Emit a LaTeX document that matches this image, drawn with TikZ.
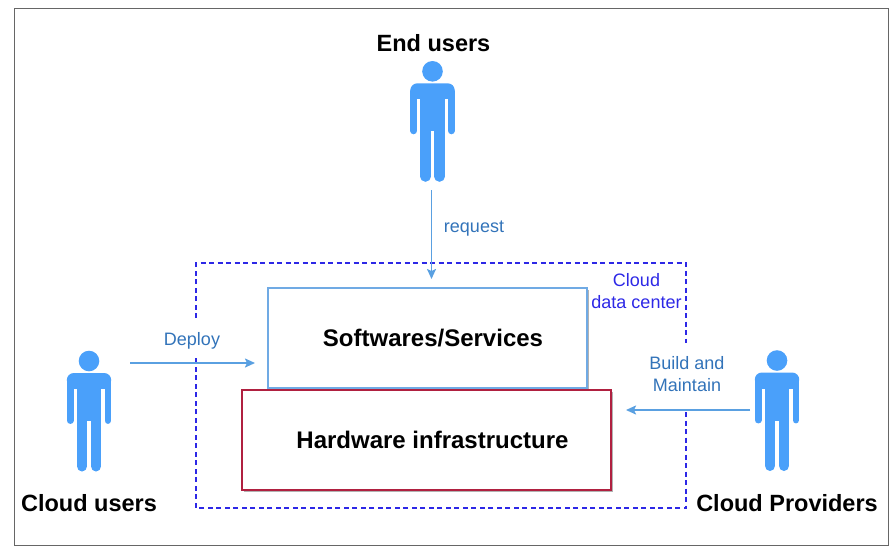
\documentclass[tikz,border=0pt]{standalone}
\usepackage{fontspec}
\setmainfont{Liberation Sans}
\usetikzlibrary{shadows,arrows.meta}
\definecolor{personblue}{RGB}{74,160,250}
\definecolor{arrowblue}{RGB}{90,160,225}
\definecolor{labelblue}{RGB}{50,115,185}
\definecolor{softblue}{RGB}{112,170,228}
\definecolor{hardred}{RGB}{176,32,64}
\definecolor{centerblue}{RGB}{45,40,230}
\tikzset{
    person/.pic={
        \fill[personblue] (0,0) circle (10.3);
        \fill[personblue,rounded corners=7] (-22.2,26) -- (-22.2,12) -- (22.2,12) -- (22.2,26) -- cycle;
        \fill[personblue] (-15.5,20) rectangle (15.5,28);
        \fill[personblue] (-12.3,28) rectangle (12.3,60);
        \draw[personblue,line width=6.7pt,line cap=round] (-18.85,20) -- (-18.85,59.6);
        \draw[personblue,line width=6.7pt,line cap=round] (18.85,20) -- (18.85,59.6);
        \draw[personblue,line width=10.6pt,line cap=round] (-7,50) -- (-7,105.2);
        \draw[personblue,line width=10.6pt,line cap=round] (7,50) -- (7,105.2);
    },
    rolelabel/.style={font=\bfseries\fontsize{23.5}{26}\selectfont,text=black},
    boxlabel/.style={font=\bfseries\fontsize{24}{26}\selectfont,text=black},
    arrowlabel/.style={font=\fontsize{18}{22}\selectfont,text=labelblue,align=center},
    flow/.style={arrowblue,line width=1.8pt,-{Stealth[length=10pt,width=9pt,inset=2pt]}},
    centerline/.style={centerblue,line width=1.8pt,dash pattern=on 5pt off 3.5pt},
    softbox/.style={boxlabel,draw=softblue,line width=2pt,fill=white,minimum width=319pt,minimum height=100pt,
        drop shadow={shadow xshift=2pt,shadow yshift=-2pt,fill=black,opacity=.3}},
    hardbox/.style={boxlabel,draw=hardred,line width=2pt,fill=white,minimum width=369pt,minimum height=100pt,
        drop shadow={shadow xshift=2pt,shadow yshift=-2pt,fill=black,opacity=.3}},
}
\begin{document}
\begin{tikzpicture}[x=1pt,y=-1pt]
    \useasboundingbox (0,0) rectangle (896,552);
    \draw[black!60,line width=1pt] (14,8) rectangle (888,545);

    % data center outline, open where the arrows come through
    \draw[centerline] (196,318) -- (196,263) -- (686,263) -- (686,343);
    \draw[centerline] (686,412) -- (686,508) -- (196,508) -- (196,358);
    \node[arrowlabel,text=centerblue] (centerlabel) at (636.5,291.5) {Cloud\\data center};

    \node[softbox] (software) at (427.5,338) {\hspace{11pt}\raisebox{-1pt}{Softwares/Services}};
    \node[hardbox] (hardware) at (426.5,440) {\hspace{12pt}\raisebox{-1pt}{Hardware infrastructure}};

    \pic (enduser) at (432.5,71.3) {person};
    \pic (clouduser) at (89,361) {person};
    \pic (provider) at (777,360.5) {person};
    \node[rolelabel] (endlabel) at (433.5,43) {End users};
    \node[rolelabel] (userlabel) at (89,503) {Cloud users};
    \node[rolelabel] (providerlabel) at (787,503) {Cloud Providers};

    \coordinate (requestfrom) at (431.5,190);
    \coordinate (requestto) at (431.5,279);
    \coordinate (deployfrom) at (130,363);
    \coordinate (deployto) at (255,363);
    \coordinate (buildfrom) at (750,410);
    \coordinate (buildto) at (626,410);
    \draw[flow] (requestfrom) -- (requestto);
    \draw[flow] (deployfrom) -- (deployto);
    \draw[flow] (buildfrom) -- (buildto);
    \node[arrowlabel] (requestlabel) at (474,229) {request};
    \node[arrowlabel] (deploylabel) at (192,341) {Deploy};
    \node[arrowlabel] (buildlabel) at (687,374) {Build and\\Maintain};
\end{tikzpicture}
\end{document}
